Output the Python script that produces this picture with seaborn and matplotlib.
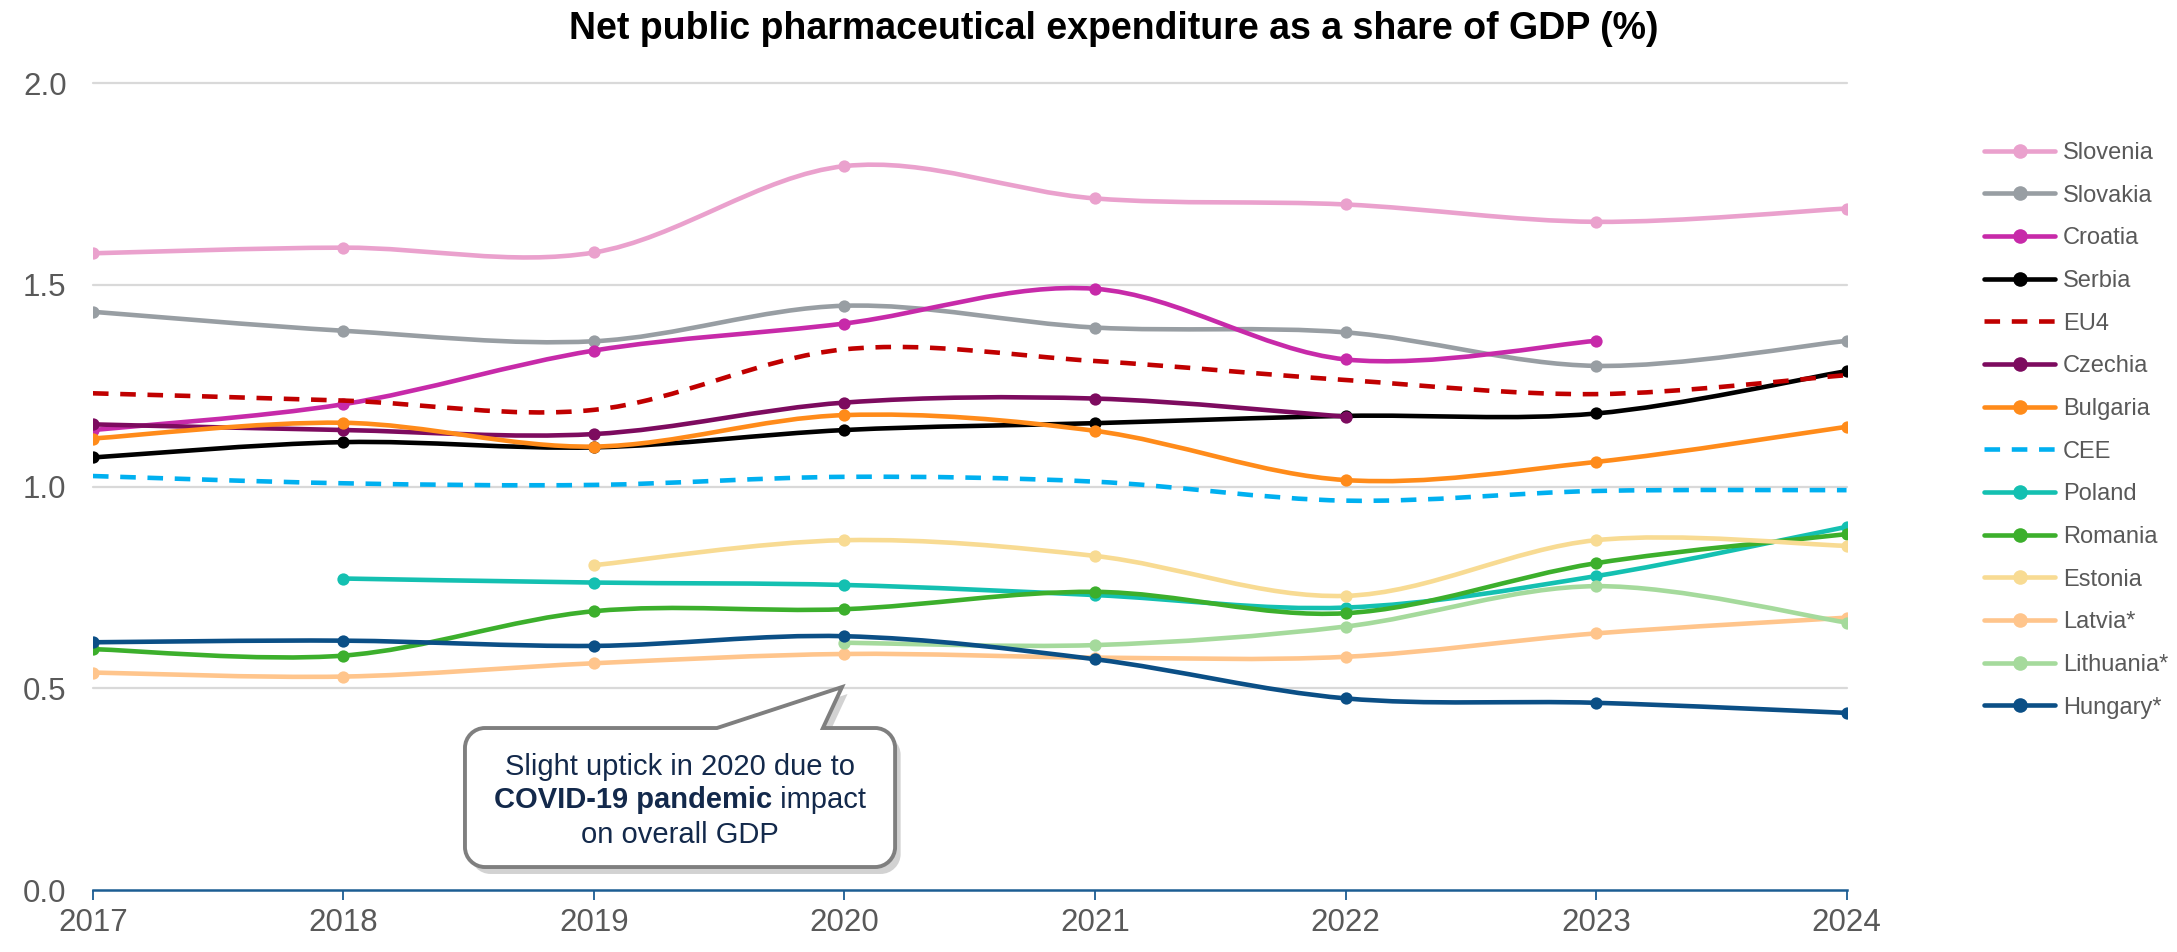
import numpy as np
import pandas as pd
import matplotlib
matplotlib.use("Agg")
import matplotlib.pyplot as plt
import seaborn as sns
from matplotlib.path import Path
from matplotlib.patches import PathPatch
from matplotlib.lines import Line2D
import matplotlib.patheffects as pe

# ---- data -------------------------------------------------------------
years = [2017, 2018, 2019, 2020, 2021, 2022, 2023, 2024]
nan = np.nan

slovenia = [1.578, 1.592, 1.580, 1.794, 1.714, 1.699, 1.656, 1.689]
slovakia = [1.433, 1.386, 1.360, 1.448, 1.394, 1.382, 1.299, 1.361]
croatia = [1.140, 1.204, 1.337, 1.404, 1.490, 1.315, 1.361, nan]
serbia = [1.072, 1.110, 1.097, 1.140, 1.157, 1.175, 1.181, 1.286]
eu4 = [1.231, 1.213, 1.190, 1.340, 1.311, 1.264, 1.229, 1.276]
czechia = [1.154, 1.140, 1.130, 1.208, 1.218, 1.173, nan, nan]
bulgaria = [1.119, 1.158, 1.099, 1.177, 1.138, 1.016, 1.061, 1.148]
cee = [1.026, 1.008, 1.004, 1.024, 1.012, 0.965, 0.989, 0.991]
poland = [nan, 0.772, 0.762, 0.756, 0.731, 0.700, 0.778, 0.900]
romania = [0.597, 0.581, 0.691, 0.696, 0.739, 0.686, 0.810, 0.882]
estonia = [nan, nan, 0.805, 0.867, 0.828, 0.729, 0.867, 0.853]
latvia = [0.539, 0.529, 0.562, 0.585, 0.576, 0.578, 0.636, 0.675]
lithuania = [nan, nan, nan, 0.613, 0.607, 0.653, 0.753, 0.663]
hungary = [0.614, 0.618, 0.605, 0.629, 0.572, 0.475, 0.464, 0.439]

series_names = ["Slovenia", "Slovakia", "Croatia", "Serbia", "EU4", "Czechia",
                "Bulgaria", "CEE", "Poland", "Romania", "Estonia", "Latvia*",
                "Lithuania*", "Hungary*"]
series_values = [slovenia, slovakia, croatia, serbia, eu4, czechia, bulgaria,
                 cee, poland, romania, estonia, latvia, lithuania, hungary]
colors = ["#eaa1cd", "#989ea3", "#c72aa9", "#000000", "#c00000", "#7d0b5f",
          "#ff8b1a", "#00b0f0", "#14c0b1", "#3caf2c", "#f8db93", "#ffc58c",
          "#a5da9c", "#0b4f86"]
dashed = {"EU4", "CEE"}

title = "Net public pharmaceutical expenditure as a share of GDP (%)"
y_ticks = [0.0, 0.5, 1.0, 1.5, 2.0]

df = pd.DataFrame({"year": np.tile(years, len(series_names)),
                   "series": np.repeat(series_names, len(years)),
                   "value": np.concatenate(series_values)})

# ---- style ------------------------------------------------------------
sns.set_theme(style="white")
plt.rcParams["font.family"] = ["Liberation Sans", "DejaVu Sans"]
TXT = "#595959"
AXIS_BLUE = "#1c5d93"

fig = plt.figure(figsize=(21.77, 9.52), dpi=100)
ax = fig.add_axes([0.0427, 0.0651, 0.8055, 0.8477])


def smooth_path(xs, ys):
    """Cubic Bezier path through the points (spreadsheet-style smoothing)."""
    pts = np.column_stack([xs, ys])
    n = len(pts)
    verts = [pts[0]]
    codes = [Path.MOVETO]
    for i in range(n - 1):
        p0 = pts[i - 1] if i > 0 else pts[i]
        p1 = pts[i]
        p2 = pts[i + 1]
        p3 = pts[i + 2] if i + 2 < n else pts[i + 1]
        c1 = p1 + (p2 - p0) / 6.0
        c2 = p2 - (p3 - p1) / 6.0
        verts += [c1, c2, p2]
        codes += [Path.CURVE4] * 3
    return Path(verts, codes)


LW = 3.3
DASH = (0, (3.4, 2.55))
for k, (name, color) in enumerate(zip(series_names, colors)):
    sub = df[(df.series == name) & df.value.notna()]
    path = smooth_path(sub.year.to_numpy(float), sub.value.to_numpy(float))
    ls = DASH if name in dashed else "-"
    ax.add_patch(PathPatch(path, fill=False, edgecolor=color, lw=LW,
                           linestyle=ls, capstyle="butt", zorder=3 + k * 0.1))
    if name not in dashed:
        sns.scatterplot(data=sub, x="year", y="value", ax=ax, color=color,
                        s=78, linewidth=0, zorder=3.05 + k * 0.1, legend=False)

# ---- axes -------------------------------------------------------------
ax.set_xlim(years[0], years[-1])
ax.set_ylim(0, 2.0)
ax.set_xticks(years)
ax.set_xticklabels([str(y) for y in years])
ax.set_yticks(y_ticks)
ax.set_yticklabels([f"{v:.1f}" for v in y_ticks])
ax.set_xlabel("")
ax.set_ylabel("")
for v in y_ticks[1:]:
    ax.axhline(v, color="#d9d9d9", lw=1.6, zorder=1, clip_on=False)
for s in ["top", "right", "left"]:
    ax.spines[s].set_visible(False)
ax.spines["bottom"].set_color(AXIS_BLUE)
ax.spines["bottom"].set_linewidth(1.8)
ax.tick_params(axis="x", direction="out", length=7, width=1.3,
               color=AXIS_BLUE, labelcolor=TXT, labelsize=22.5, pad=6,
               bottom=True)
ax.tick_params(axis="y", length=0, labelcolor=TXT, labelsize=22.5, pad=19)

fig.text(0.5115, 0.970, title, ha="center", va="center", fontsize=27,
         fontweight="bold", color="#000000")

# ---- legend -----------------------------------------------------------
handles = []
for name, color in zip(series_names, colors):
    if name in dashed:
        handles.append(Line2D([], [], color=color, lw=LW, linestyle=DASH))
    else:
        handles.append(Line2D([], [], color=color, lw=LW, marker="o",
                              markersize=10.5, markeredgewidth=0))
leg = fig.legend(handles, series_names, loc="upper left",
                 bbox_to_anchor=(0.9114, 0.851), frameon=False,
                 fontsize=17, handlelength=3.0, handletextpad=0.34,
                 labelspacing=0.876, borderpad=0, borderaxespad=0)
for t in leg.get_texts():
    t.set_color(TXT)

# ---- callout ----------------------------------------------------------
x0, x1 = 2018.485, 2020.202
y0, y1 = 0.057, 0.4015
tip = (2019.99, 0.503)
base_l, base_r = 2019.491, 2019.914
rx, ry = 20 / 250.5, 20 / 403.5
kk = 0.5523
cv = [
    ((x0 + rx, y1), Path.MOVETO),
    ((base_l, y1), Path.LINETO),
    (tip, Path.LINETO),
    ((base_r, y1), Path.LINETO),
    ((x1 - rx, y1), Path.LINETO),
    ((x1 - rx + kk * rx, y1), Path.CURVE4),
    ((x1, y1 - ry + kk * ry), Path.CURVE4),
    ((x1, y1 - ry), Path.CURVE4),
    ((x1, y0 + ry), Path.LINETO),
    ((x1, y0 + ry - kk * ry), Path.CURVE4),
    ((x1 - rx + kk * rx, y0), Path.CURVE4),
    ((x1 - rx, y0), Path.CURVE4),
    ((x0 + rx, y0), Path.LINETO),
    ((x0 + rx - kk * rx, y0), Path.CURVE4),
    ((x0, y0 + ry - kk * ry), Path.CURVE4),
    ((x0, y0 + ry), Path.CURVE4),
    ((x0, y1 - ry), Path.LINETO),
    ((x0, y1 - ry + kk * ry), Path.CURVE4),
    ((x0 + rx - kk * rx, y1), Path.CURVE4),
    ((x0 + rx, y1), Path.CURVE4),
    ((x0 + rx, y1), Path.CLOSEPOLY),
]
callout = PathPatch(Path([v for v, _ in cv], [c for _, c in cv]),
                    facecolor="white", edgecolor="#7f7f7f", lw=2.8,
                    zorder=10, clip_on=False)
callout.set_path_effects([pe.SimplePatchShadow(offset=(4, -5),
                                               shadow_rgbFace="#a6a6a6",
                                               alpha=0.5),
                          pe.Normal()])
ax.add_patch(callout)

NAVY = "#13294b"
cx = (x0 + x1) / 2
FS = 21
ax.text(cx, 0.285, "Slight uptick in 2020 due to", ha="center",
        va="baseline", fontsize=FS, color=NAVY, zorder=11)
ax.text(cx, 0.116, "on overall GDP", ha="center", va="baseline",
        fontsize=FS, color=NAVY, zorder=11)

# mixed-weight middle line: measure both parts, then centre the pair
bold_part = ax.text(0, 0, "COVID-19 pandemic", fontsize=FS,
                    fontweight="bold", color=NAVY, va="baseline", zorder=11)
reg_part = ax.text(0, 0, " impact", fontsize=FS, color=NAVY,
                   va="baseline", zorder=11)
fig.canvas.draw()
r = fig.canvas.get_renderer()
wb = bold_part.get_window_extent(r).width
wr = reg_part.get_window_extent(r).width
cpx, cpy = ax.transData.transform((cx, 0.203))
left_px = cpx - (wb + wr) / 2
inv = ax.transData.inverted()
bold_part.set_position(inv.transform((left_px, cpy)))
reg_part.set_position(inv.transform((left_px + wb, cpy)))

fig.savefig("out.png", dpi=100)
